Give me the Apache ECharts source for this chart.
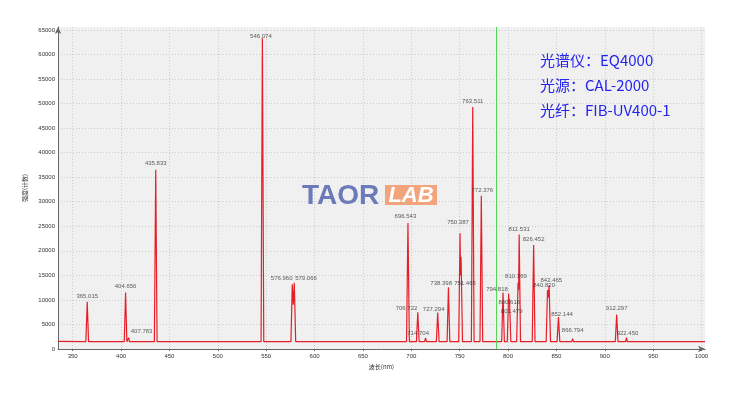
<!DOCTYPE html>
<html><head><meta charset="utf-8">
<script src="https://cdn.jsdelivr.net/npm/echarts@6/dist/echarts.min.js"></script>
<style>html,body{margin:0;padding:0;background:#fff}#c{width:734px;height:393px}</style>
</head><body><div id="c"></div>
<script>
// ---------- data ----------
const xTicks = [350,400,450,500,550,600,650,700,750,800,850,900,950,1000];
const yTicks = [0,5000,10000,15000,20000,25000,30000,35000,40000,45000,50000,55000,60000,65000];
const spectrum = [
  [334.8,1550],
  [363.6,1500],[365.015,9600],[366.4,1500],
  [403.3,1500],[404.656,11500],[406.0,1500],[407.0,1500],[407.783,2300],[408.6,1500],
  [434.4,1500],[435.833,36500],[437.2,1500],
  [544.7,1500],[546.074,63300],[547.5,1500],
  [575.6,1500],[576.960,13200],[578.0,9000],[579.066,13500],[580.5,1500],
  [695.1,1500],[696.543,25650],[698.0,1500],
  [705.3,1500],[706.722,7500],[708.1,1500],
  [713.8,1500],[714.704,2250],[715.6,1500],
  [725.9,1500],[727.294,7450],[728.7,1500],
  [737.0,1500],[738.398,12600],[739.8,1500],
  [749.0,1500],[750.387,23600],[750.9,15000],[751.465,18800],[752.9,1500],
  [762.1,1500],[763.511,49300],[764.9,1500],
  [771.0,1500],[772.376,31200],[773.8,1500],
  [793.4,1500],[794.818,11500],[796.2,1500],
  [799.2,1500],[800.616,11300],[801.0,9500],[801.479,10200],[802.9,1500],
  [808.9,1500],[810.369,13500],[810.9,12000],[811.531,23300],[812.9,1500],
  [825.0,1500],[826.452,21200],[827.9,1500],
  [839.4,1500],[840.820,12000],[841.6,10500],[842.465,13000],[843.9,1500],
  [850.7,1500],[852.144,6500],[853.5,1500],
  [865.9,1500],[866.794,2100],[867.7,1500],
  [910.9,1500],[912.297,7000],[913.7,1500],
  [921.6,1500],[922.450,2300],[923.3,1500],
  [1003.6,1500]
];
const peakWavelengths = [365.015,404.656,407.783,435.833,546.074,576.960,579.066,696.543,706.722,714.704,727.294,738.398,750.387,751.465,763.511,772.376,794.818,800.616,801.479,810.369,811.531,826.452,840.820,842.465,852.144,866.794,912.297,922.450];
const peakCounts = [9600,11500,2300,36500,63300,13200,13500,25650,7500,2250,7450,12600,23600,18800,49300,31200,11500,11300,10200,13500,23300,21200,12000,13000,6500,2100,7000,2300];
const peakLabels = ['365.015','404.656','407.783','435.833','546.074','576.960','579.066','696.543','706.722','714.704','727.294','738.398','750.387','751.465','763.511','772.376','794.818','800.616','801.479','810.369','811.531','826.452','840.820','842.465','852.144','866.794','912.297','922.450'];
const markerWavelength = 788;
const infoLines = ['光谱仪：EQ4000','光源：CAL-2000','光纤：FIB-UV400-1'];
const xName = '波长(nm)';
const yName = '强度(计数)';

// ---------- layout / style ----------
const labelOffsets = [[0,0],[0,0],[13,0],[0,0],[-1.5,4],[-10.6,0],[11.7,1.3],[-2.5,-1],[-11.3,2],[-7.4,1.4],[-4,2.6],[-7.3,2.4],[-2,-4.6],[3.9,32.7],[0,0.7],[1,0],[-6,2.6],[0.6,14.9],[2.2,18.5],[-2.1,0],[0,1],[0,0],[-3.4,1],[2.2,1],[3.5,3],[0,-2],[0,0],[1,2]];
const tickFont = {fontFamily:'Liberation Sans', fontSize:6, color:'#333', formatter:v=>String(v)};

const chart = echarts.init(document.getElementById('c'), null, {renderer:'canvas'});
chart.setOption({
  animation:false,
  backgroundColor:'#ffffff',
  grid:{left:58, right:29, top:27, bottom:44, show:true, backgroundColor:'#f0f0f0', borderWidth:0},
  xAxis:{
    type:'value', min:334.8, max:1003.6,
    name:xName, nameLocation:'middle', nameGap:12,
    nameTextStyle:{fontFamily:'Noto Sans CJK SC', fontSize:6, color:'#333'},
    axisLine:{show:true, onZero:false, lineStyle:{color:'#666', width:1}, symbol:['none','arrow'], symbolSize:[5,7]},
    axisTick:{show:true, length:2, lineStyle:{color:'#666'}, customValues:xTicks},
    axisLabel:Object.assign({margin:4, customValues:xTicks}, tickFont),
    splitLine:{show:true, lineStyle:{color:'#cdcdcd', type:[1,2], width:1}}
  },
  yAxis:{
    type:'value', min:0, max:65600,
    name:yName, nameLocation:'middle', nameGap:26, nameRotate:90,
    nameTextStyle:{fontFamily:'Noto Sans CJK SC', fontSize:6, color:'#333'},
    axisLine:{show:true, onZero:false, lineStyle:{color:'#666', width:1}, symbol:['none','arrow'], symbolSize:[5,7]},
    axisTick:{show:false, customValues:yTicks},
    axisLabel:Object.assign({margin:3, customValues:yTicks}, tickFont),
    splitLine:{show:true, lineStyle:{color:'#cdcdcd', type:[1,2], width:1}}
  },
  series:[
    {
      type:'line', data:spectrum, showSymbol:false, symbol:'none',
      lineStyle:{color:'#e61e28', width:1.2}, z:3,
      markLine:{silent:true, symbol:'none', label:{show:false},
        lineStyle:{color:'#55d655', width:1, type:'solid'},
        data:[{xAxis:markerWavelength}]}
    },
    {
      type:'scatter', symbolSize:0, z:5,
      data:peakWavelengths.map((w,i)=>({value:[w,peakCounts[i]], label:{offset:labelOffsets[i]}})),
      label:{show:true, position:'top', distance:3, fontFamily:'Liberation Sans', fontSize:6, color:'#333',
        formatter:p=>peakLabels[p.dataIndex]}
    }
  ],
  graphic:[
    {type:'text', left:302, top:182, z:10, style:{text:'TAOR', fill:'#6b7ab8', font:'bold 28px Liberation Sans'}},
    {type:'rect', shape:{x:385, y:185, width:52, height:20}, z:10, style:{fill:'#f2a57c'}},
    {type:'text', x:411, y:195.5, z:11, style:{text:'LAB', fill:'#ffffff', font:'italic bold 22px Liberation Sans', align:'center', verticalAlign:'middle'}},
    {type:'text', x:540, y:60.7, z:10, style:{text:infoLines[0], fill:'#2424ee', font:'15px "Noto Sans CJK SC"', verticalAlign:'middle'}},
    {type:'text', x:540, y:85.7, z:10, style:{text:infoLines[1], fill:'#2424ee', font:'15px "Noto Sans CJK SC"', verticalAlign:'middle'}},
    {type:'text', x:540, y:110.7, z:10, style:{text:infoLines[2], fill:'#2424ee', font:'15px "Noto Sans CJK SC"', verticalAlign:'middle'}}
  ]
});
</script></body></html>
